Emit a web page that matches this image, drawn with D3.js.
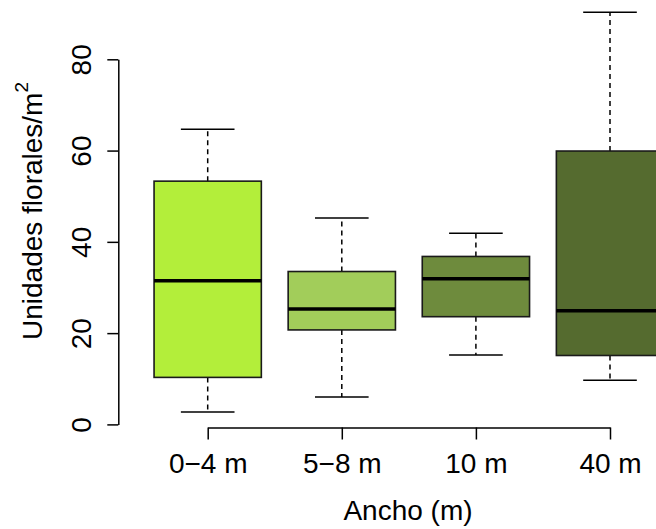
<!DOCTYPE html>
<html>
<head>
<meta charset="utf-8">
<script src="https://cdn.jsdelivr.net/npm/d3@7"></script>
<style>
  html, body { margin: 0; padding: 0; background: #fff; }
  svg { display: block; }
  text { font-family: "Liberation Sans", Arial, Helvetica, sans-serif; fill: #000; }
</style>
</head>
<body>
<script>
// ---- data ----
const categories   = ["0\u22124 m", "5\u22128 m", "10 m", "40 m"];
const lowerWhisker = [2.7, 6.0, 15.2, 9.7];
const q1           = [10.3, 20.7, 23.6, 15.1];
const median       = [31.5, 25.3, 31.9, 24.9];
const q3           = [53.3, 33.5, 36.8, 59.9];
const upperWhisker = [64.7, 45.2, 41.9, 90.3];
const boxColors    = ["#b3ee3a", "#a2cd5a", "#6e8b3d", "#556b2f"];
const yTicks       = [0, 20, 40, 60, 80];
const xTitle = "Ancho (m)";
const yTitle = "Unidades florales/m";
const yTitleSup = "2";

// ---- layout ----
const W = 656, H = 529;
const fontSize = 28;

const svg = d3.select("body").append("svg")
  .attr("width", W).attr("height", H);

const x = d3.scalePoint().domain(categories).range([207.7, 610]);
const y = d3.scaleLinear().domain([0, 80]).range([424.4, 59.3]);

const step = x.step();
const boxW = step * 0.8;
const capW = boxW * 0.5;

const data = categories.map((c, i) => ({
  cat: c, lo: lowerWhisker[i], q1: q1[i], med: median[i], q3: q3[i], hi: upperWhisker[i], color: boxColors[i]
}));

const g = svg.append("g");
const box = g.selectAll("g.box").data(data).join("g").attr("class", "box");

// whiskers (dashed)
box.append("line")
  .attr("x1", d => x(d.cat)).attr("x2", d => x(d.cat))
  .attr("y1", d => y(d.q3)).attr("y2", d => y(d.hi))
  .attr("stroke", "#000").attr("stroke-width", 1.5).attr("stroke-dasharray", "5,4");
box.append("line")
  .attr("x1", d => x(d.cat)).attr("x2", d => x(d.cat))
  .attr("y1", d => y(d.q1)).attr("y2", d => y(d.lo))
  .attr("stroke", "#000").attr("stroke-width", 1.5).attr("stroke-dasharray", "5,4");
// caps
box.append("line")
  .attr("x1", d => x(d.cat) - capW / 2).attr("x2", d => x(d.cat) + capW / 2)
  .attr("y1", d => y(d.hi)).attr("y2", d => y(d.hi))
  .attr("stroke", "#000").attr("stroke-width", 1.5);
box.append("line")
  .attr("x1", d => x(d.cat) - capW / 2).attr("x2", d => x(d.cat) + capW / 2)
  .attr("y1", d => y(d.lo)).attr("y2", d => y(d.lo))
  .attr("stroke", "#000").attr("stroke-width", 1.5);
// boxes
box.append("rect")
  .attr("x", d => x(d.cat) - boxW / 2).attr("width", boxW)
  .attr("y", d => y(d.q3)).attr("height", d => y(d.q1) - y(d.q3))
  .attr("fill", d => d.color).attr("stroke", "#1a1a1a").attr("stroke-width", 1.6);
// medians
box.append("line")
  .attr("x1", d => x(d.cat) - boxW / 2).attr("x2", d => x(d.cat) + boxW / 2)
  .attr("y1", d => y(d.med)).attr("y2", d => y(d.med))
  .attr("stroke", "#000").attr("stroke-width", 3.5);

// ---- axes ----
const yAxisX = 118.3;
const yAxis = svg.append("g").attr("transform", `translate(${yAxisX},0)`)
  .call(d3.axisLeft(y).tickValues(yTicks).tickSize(11).tickSizeOuter(0).tickFormat(d3.format("d")));
yAxis.selectAll("path, line").attr("stroke", "#000").attr("stroke-width", 1.5);
yAxis.selectAll("text")
  .attr("font-size", fontSize).attr("font-family", "Liberation Sans, Arial, sans-serif")
  .attr("text-anchor", "middle").attr("transform", "rotate(-90)")
  .attr("x", 0).attr("y", -27).attr("dy", 0).attr("fill", "#000");

const xAxisY = 427.5;
const xAxis = svg.append("g").attr("transform", `translate(0,${xAxisY})`)
  .call(d3.axisBottom(x).tickSize(12).tickSizeOuter(0));
xAxis.selectAll("path, line").attr("stroke", "#000").attr("stroke-width", 1.5);
xAxis.selectAll("text")
  .attr("font-size", fontSize).attr("font-family", "Liberation Sans, Arial, sans-serif")
  .attr("y", 45.5).attr("dy", 0).attr("fill", "#000");

// ---- titles ----
svg.append("text")
  .attr("x", 408).attr("y", 519.5)
  .attr("text-anchor", "middle").attr("font-size", fontSize)
  .text(xTitle);

const yt = svg.append("text")
  .attr("transform", "translate(41.7,211) rotate(-90)")
  .attr("text-anchor", "middle").attr("font-size", fontSize);
yt.append("tspan").text(yTitle);
yt.append("tspan").attr("font-size", 19).attr("dy", -14).text(yTitleSup);
</script>
</body>
</html>
